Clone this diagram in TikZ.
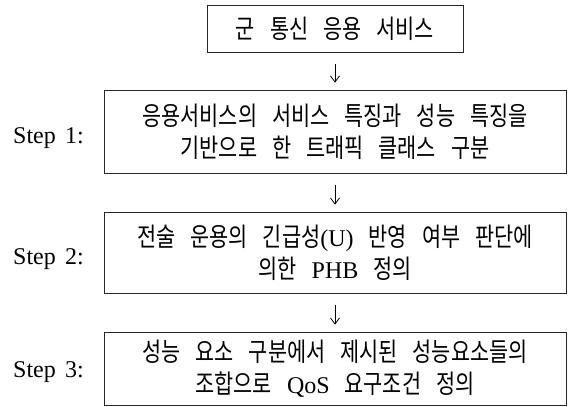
\documentclass[tikz,border=0pt]{standalone}
\usepackage{fontspec}
\setmainfont{Liberation Serif}
\newfontfamily\kr[FakeStretch=0.8]{Noto Sans CJK KR}
\newfontfamily\lat{Liberation Serif}
\usetikzlibrary{arrows.meta}
\newcommand\kgap{\hspace{15bp}}
\begin{document}
\begin{tikzpicture}[x=1bp,y=-1bp,
  box/.style={draw=black!85, line width=0.8bp, inner sep=0pt, align=center,
    font=\kr\fontsize{26bp}{32bp}\selectfont},
  steplabel/.style={anchor=base west, inner sep=0pt, font=\fontsize{24bp}{28bp}\selectfont},
  flow/.style={-{Straight Barb[length=6bp,width=9bp]}, line width=0.8bp,
    shorten <=12bp, shorten >=7bp}]
\useasboundingbox (0,0) rectangle (569,406);
\node[box, minimum width=256bp, minimum height=47bp] (top) at (335,28.5)
  {군\kgap 통신\kgap 응용\kgap 서비스};
\node[box, minimum width=462bp, minimum height=83bp] (s1) at (335,131.5)
  {응용서비스의\kgap 서비스\kgap 특징과\kgap 성능\kgap 특징을\\
   기반으로\kgap 한\kgap 트래픽\kgap 클래스\kgap 구분};
\node[box, minimum width=462bp, minimum height=81bp] (s2) at (335,252.5)
  {전술\kgap 운용의\kgap 긴급성{\lat\fontsize{24bp}{32bp}\selectfont (U)}\kgap 반영\kgap 여부\kgap 판단에\\
   의한\kgap {\lat\fontsize{24bp}{32bp}\selectfont PHB}\kgap 정의};
\node[box, minimum width=462bp, minimum height=73bp] (s3) at (335,368.5)
  {성능\kgap 요소\kgap 구분에서\kgap 제시된\kgap 성능요소들의\\
   조합으로\kgap {\lat\fontsize{24bp}{32bp}\selectfont QoS}\kgap 요구조건\kgap 정의};
\node[steplabel] (l1) at (13,143) {Step\hspace{0.39em}1:};
\node[steplabel] (l2) at (13,264) {Step\hspace{0.39em}2:};
\node[steplabel] (l3) at (13,377) {Step\hspace{0.39em}3:};
\draw[flow] (top) -- (s1);
\draw[flow] (s1) -- (s2);
\draw[flow] (s2) -- (s3);
\end{tikzpicture}
\end{document}
